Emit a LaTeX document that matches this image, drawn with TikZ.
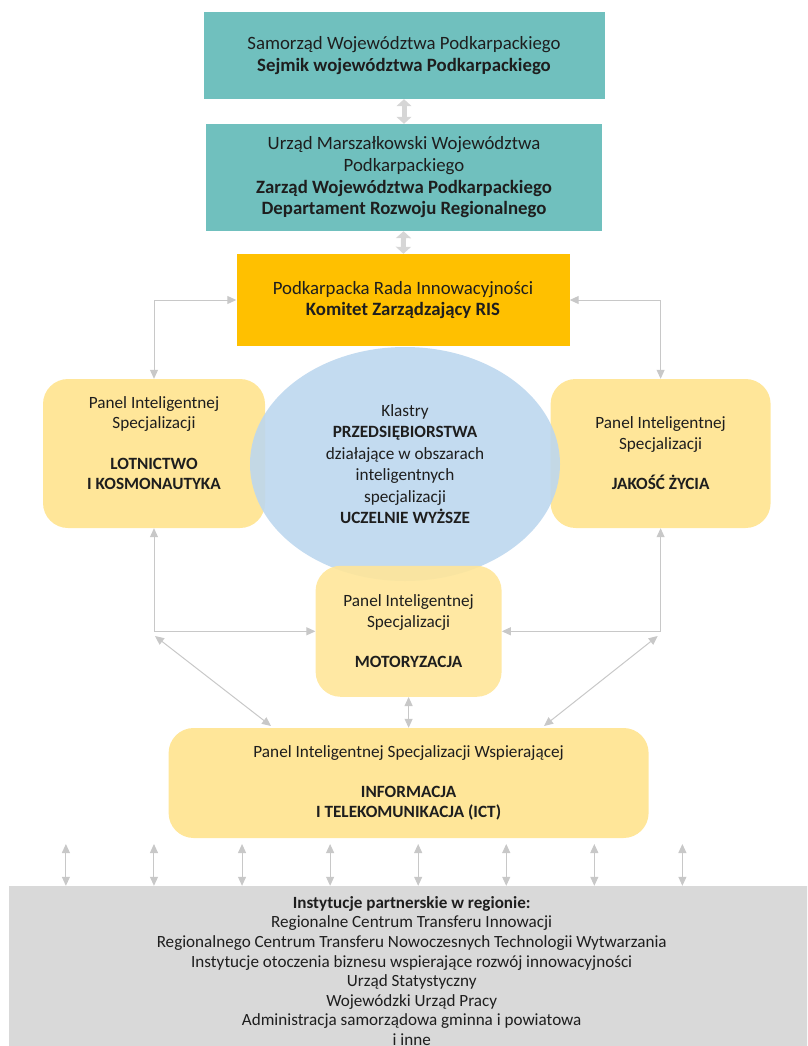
\documentclass[tikz,border=0pt]{standalone}
\usepackage{fontspec}
\setmainfont{Carlito}
\usetikzlibrary{arrows.meta,shapes.geometric}

\definecolor{govteal}{RGB}{112,192,190}
\definecolor{radagold}{RGB}{255,192,0}
\definecolor{panelyellow}{RGB}{255,230,153}
\definecolor{clusterblue}{RGB}{189,215,238}
\definecolor{instgray}{RGB}{217,217,217}
\definecolor{linkgray}{RGB}{200,200,200}
\definecolor{biglinkgray}{RGB}{214,214,214}
\definecolor{textdark}{RGB}{30,30,30}

\newcommand{\govsize}{\fontsize{18.8pt}{21.7pt}\selectfont}
\newcommand{\clustersize}{\fontsize{17.2pt}{21.5pt}\selectfont}
\newcommand{\panelsize}{\fontsize{17.2pt}{20.3pt}\selectfont}
\newcommand{\instsize}{\fontsize{17.1pt}{19.6pt}\selectfont}

\begin{document}
\begin{tikzpicture}[x=1pt, y=-1pt,
    govbox/.style ={rectangle, fill=govteal, text=textdark, align=center, font=\govsize, inner sep=0pt},
    panel/.style ={rectangle, rounded corners=25pt, fill=panelyellow, text=textdark, align=center, font=\panelsize, inner sep=0pt},
    link/.style ={draw=linkgray, line width=1pt, {Triangle[length=9pt,width=8pt]}-{Triangle[length=9pt,width=8pt]}},
    biglink/.style ={draw=biglinkgray, line width=5pt, {Triangle[length=7pt,width=15pt]}-{Triangle[length=7pt,width=15pt]}}]
   \useasboundingbox (0,0) rectangle (807,1046);
   \clip (0,0) rectangle (807,1046);

   \node[govbox, minimum width=401pt, minimum height=87pt] (sejmik) at (404,55.5)
     {Samorząd Województwa Podkarpackiego\\\textbf{Sejmik województwa Podkarpackiego}};
   \node[govbox, minimum width=396pt, minimum height=107pt] (urzad) at (404,177.5)
     {Urząd Marszałkowski Województwa\\Podkarpackiego\\\textbf{Zarząd Województwa Podkarpackiego}\\\textbf{Departament Rozwoju Regionalnego}};
   \node[govbox, fill=radagold, minimum width=333pt, minimum height=92pt] (rada) at (403,300)
     {Podkarpacka Rada Innowacyjności\\\textbf{Komitet Zarządzający RIS}};

   \node[panel, minimum width=222pt, minimum height=149pt] (lot) at (154,453.5) {};
   \node[panel, minimum width=220pt, minimum height=149pt] (jakosc) at (660.6,453.5)
     {Panel Inteligentnej\\Specjalizacji\\[20.3pt]\textbf{JAKOŚĆ ŻYCIA}};
   \node[ellipse, fill=clusterblue, fill opacity=0.9, text opacity=1, text=textdark, align=center, font=\clustersize,
     minimum width=310pt, minimum height=234pt, inner sep=0pt] (klastry) at (405,464)
     {Klastry\\\textbf{PRZEDSIĘBIORSTWA}\\działające w obszarach\\inteligentnych\\specjalizacji\\\textbf{UCZELNIE WYŻSZE}};
   \node[align=center, font=\panelsize, text=textdark, inner sep=0pt] (lottxt) at (154,443)
     {Panel Inteligentnej\\Specjalizacji\\[20.3pt]\textbf{LOTNICTWO}\\\textbf{I KOSMONAUTYKA}};
   \node[panel, fill opacity=0.9, text opacity=1, minimum width=186pt, minimum height=131pt] (moto) at (408.6,631.3)
     {Panel Inteligentnej\\Specjalizacji\\[20.3pt]\textbf{MOTORYZACJA}};
   \node[panel, minimum width=480pt, minimum height=110pt] (ict) at (408.6,783)
     {Panel Inteligentnej Specjalizacji Wspierającej\\[19.5pt]\textbf{INFORMACJA}\\\textbf{I TELEKOMUNIKACJA (ICT)}};
   \node[rectangle, fill=instgray, minimum width=806pt, minimum height=174pt, inner sep=0pt] (inst) at (412,973) {};
   \node[align=center, font=\instsize, text=textdark, anchor=north, inner sep=0pt] (insttxt) at (411.7,896)
     {\textbf{Instytucje partnerskie w regionie:}\\Regionalne Centrum Transferu Innowacji\\Regionalnego Centrum Transferu Nowoczesnych Technologii Wytwarzania\\Instytucje otoczenia biznesu wspierające rozwój innowacyjności\\Urząd Statystyczny\\Wojewódzki Urząd Pracy\\Administracja samorządowa gminna i powiatowa\\i inne};

   \coordinate (dl) at (155,636);
   \coordinate (dr) at (657.7,636);
   \coordinate (ictl) at (271,726);
   \coordinate (ictr) at (544,726);

   \draw[biglink] (sejmik) to (urzad);
   \draw[biglink] (urzad) to (rada);
   \draw[link] (rada.west) -| (lot.north);
   \draw[link] (rada.east) -| (jakosc.north);
   \draw[link] (lot.south) |- (moto.west);
   \draw[link] (jakosc.south) |- (moto.east);
   \draw[link] (dl) to (ictl);
   \draw[link] (dr) to (ictr);
   \draw[link] (moto) to (ict);
   \foreach \i in {0,...,7}
     {\coordinate (up\i) at (65.9+88.07*\i,844);
      \draw[link] (up\i) to (up\i |- inst.north);}
 \end{tikzpicture}
\end{document}
